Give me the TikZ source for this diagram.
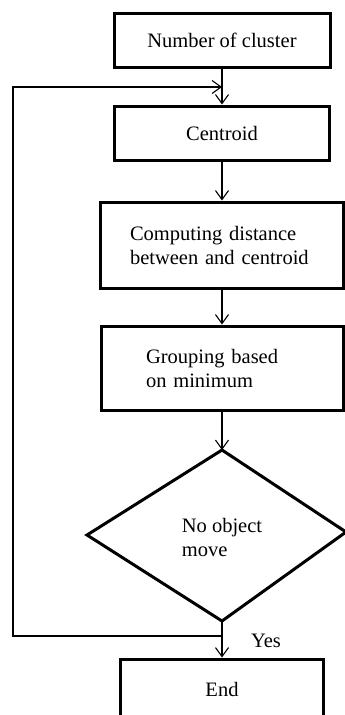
\documentclass[tikz,border=0pt]{standalone}
\usepackage{fontspec}
\setmainfont{Liberation Serif}
\usetikzlibrary{arrows.meta}

\begin{document}
\begin{tikzpicture}[x=1pt,y=-1pt,
  box/.style={draw,line width=3pt,inner sep=0pt},
  flow/.style={line width=1.1pt,-{Straight Barb[length=9pt,width=13pt,line width=1.1pt]}},
  font=\fontsize{20.5}{24}\selectfont]
\useasboundingbox (0,0) rectangle (345,715);
\node[box,minimum width=216,minimum height=54] (ncl) at (222,40) {Number of cluster};
\node[box,minimum width=215,minimum height=54] (cen) at (222,133) {Centroid};
\node[box,minimum width=243,minimum height=86,text width=184,align=left] (dist) at (222,245) {Computing distance\\between and centroid};
\node[box,minimum width=242,minimum height=84,text width=152,align=left] (grp) at (222,368) {Grouping based\\on minimum};
% decision
\coordinate (dtop) at (222,450);
\coordinate (dright) at (346,532);
\coordinate (dbot) at (222,621);
\coordinate (dleft) at (87,535);
\draw[line width=3pt,line join=miter] (dtop) -- (dright) -- (dbot) -- (dleft) -- cycle;
\node[align=left] (test) at (222,537) {No object\\move};
\node[box,minimum width=203,minimum height=60] (stop) at (222,689) {End};
\node (yes) at (266,641) {Yes};
\coordinate (join) at (222,87);
\coordinate (back) at (222,636);
\draw[line width=1.1pt] (ncl) -- (join);
\draw[flow] (join) -- (cen);
\draw[flow] (cen) -- (dist);
\draw[flow] (dist) -- (grp);
\draw[flow] (grp) -- (dtop);
\draw[flow] (dbot) -- (stop);
\draw[flow] (back) -- ++(-209,0) |- (join);
\end{tikzpicture}
\end{document}
